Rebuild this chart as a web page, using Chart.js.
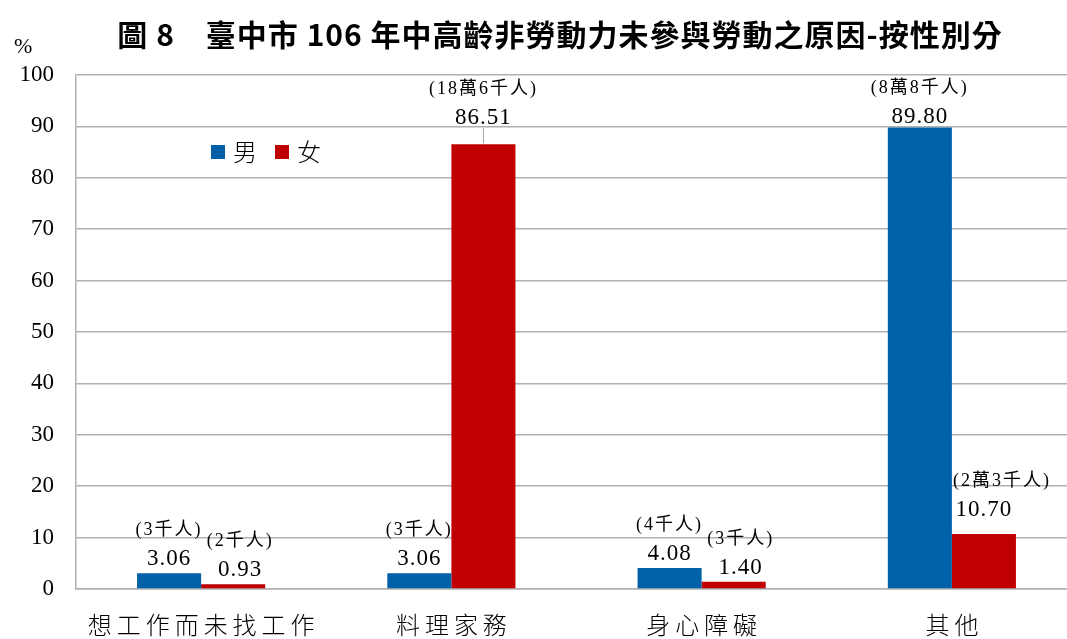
<!DOCTYPE html>
<html>
<head>
<meta charset="utf-8">
<script src="https://cdn.jsdelivr.net/npm/chart.js@4/dist/chart.umd.min.js"></script>
<style>
  html, body { margin: 0; padding: 0; background: #fff; overflow: hidden; }
  #wrap { width: 1077px; height: 639px; }
</style>
</head>
<body>
<div id="wrap"><canvas id="chart"></canvas></div>
<script>
// 資料
const categories = ["想工作而未找工作", "料理家務", "身心障礙", "其他"];
const maleValues = [3.06, 3.06, 4.08, 89.80];
const femaleValues = [0.93, 86.51, 1.40, 10.70];
const maleCounts = ["(3千人)", "(3千人)", "(4千人)", "(8萬8千人)"];
const femaleCounts = ["(2千人)", "(18萬6千人)", "(3千人)", "(2萬3千人)"];
const yTicks = [0, 10, 20, 30, 40, 50, 60, 70, 80, 90, 100];
const titleText = "圖 8　臺中市 106 年中高齡非勞動力未參與勞動之原因-按性別分";

const SERIF = '"Liberation Serif", "Noto Sans CJK TC", serif';
const CJK = '"Noto Sans CJK TC", "Liberation Serif", serif';
const BLUE = "#0060A8";
const RED = "#C00000";

// 數值與人數標籤
const labelPlugin = {
    id: "barLabels",
    afterDatasetsDraw(chart) {
        const ctx = chart.ctx;
        const counts = [maleCounts, femaleCounts];
        // 個別標籤的額外上移量與人數標籤的水平位移（像素）
        const lift = { "1-1": 12, "1-3": 10, "0-3": -4 };
        const countShift = { "1-3": 18 };
        ctx.save();
        ctx.fillStyle = "#000";
        ctx.textAlign = "center";
        ctx.textBaseline = "alphabetic";
        chart.data.datasets.forEach((ds, di) => {
            chart.getDatasetMeta(di).data.forEach((bar, i) => {
                const key = di + "-" + i;
                const extra = lift[key] || 0;
                const base = bar.y - 8 - extra;
                const dx = (di === 1 && ds.data[i] < 5) ? 7 : 0;
                ctx.letterSpacing = "1px";
                ctx.font = "23px " + SERIF;
                ctx.fillText(ds.data[i].toFixed(2), bar.x + dx, base);
                ctx.letterSpacing = "2px";
                ctx.font = "18px " + SERIF;
                ctx.fillText(counts[di][i], bar.x + dx + (countShift[key] || 0), base - 30);
                if (extra >= 12) {
                    // 引導線
                    ctx.strokeStyle = "#a0a0a0";
                    ctx.lineWidth = 1;
                    ctx.beginPath();
                    ctx.moveTo(bar.x, base + 4);
                    ctx.lineTo(bar.x, bar.y - 1);
                    ctx.stroke();
                }
            });
        });
        ctx.letterSpacing = "0px";
        ctx.restore();
    }
};

// 標題、類別文字、圖例與單位
const extraPlugin = {
    id: "extras",
    afterDraw(chart) {
        const ctx = chart.ctx;
        const area = chart.chartArea;
        const xScale = chart.scales.x;
        ctx.save();
        ctx.fillStyle = "#000";
        ctx.textBaseline = "middle";

        ctx.textAlign = "center";
        ctx.letterSpacing = "1px";
        ctx.font = "bold 30px " + CJK;
        ctx.fillText(titleText, 560, 35);

        ctx.letterSpacing = "5px";
        ctx.font = "300 24px " + CJK;
        categories.forEach((c, i) => {
            ctx.fillText(c, xScale.getPixelForTick(i) + 2.5, 625);
        });

        ctx.letterSpacing = "0px";
        ctx.textAlign = "left";
        ctx.font = "22px " + SERIF;
        ctx.fillText("%", 14, 47);

        let x = area.left + 135;
        const y = 152;
        chart.data.datasets.forEach(ds => {
            ctx.fillStyle = ds.backgroundColor;
            ctx.fillRect(x, y - 7, 14, 14);
            ctx.fillStyle = "#000";
            ctx.font = "300 24px " + CJK;
            ctx.fillText(ds.label, x + 22, y);
            x += 64;
        });
        ctx.restore();
    }
};

new Chart(document.getElementById("chart"), {
    type: "bar",
    data: {
        labels: categories,
        datasets: [
            { label: "男", data: maleValues, backgroundColor: BLUE },
            { label: "女", data: femaleValues, backgroundColor: RED }
        ]
    },
    options: {
        responsive: true,
        maintainAspectRatio: false,
        animation: false,
        layout: { padding: { top: 75, right: 0, left: 0, bottom: 50 } },
        datasets: {
            bar: { barPercentage: 1, categoryPercentage: 0.512 }
        },
        plugins: {
            legend: { display: false },
            tooltip: { enabled: false },
            title: { display: false }
        },
        scales: {
            x: {
                grid: { display: false, drawTicks: false },
                border: { display: true, color: "#b0b0b0", width: 1.5 },
                ticks: { display: false }
            },
            y: {
                min: 0,
                max: 100,
                afterBuildTicks(scale) {
                    scale.ticks = yTicks.map(v => ({ value: v }));
                },
                afterFit(scale) {
                    scale.width = 76;
                },
                grid: { color: "#b0b0b0", lineWidth: 1.5, drawTicks: false },
                border: { display: true, color: "#b0b0b0", width: 1.5 },
                ticks: {
                    color: "#000",
                    font: { family: SERIF, size: 23 },
                    padding: 22
                }
            }
        }
    },
    plugins: [labelPlugin, extraPlugin]
});
</script>
</body>
</html>
